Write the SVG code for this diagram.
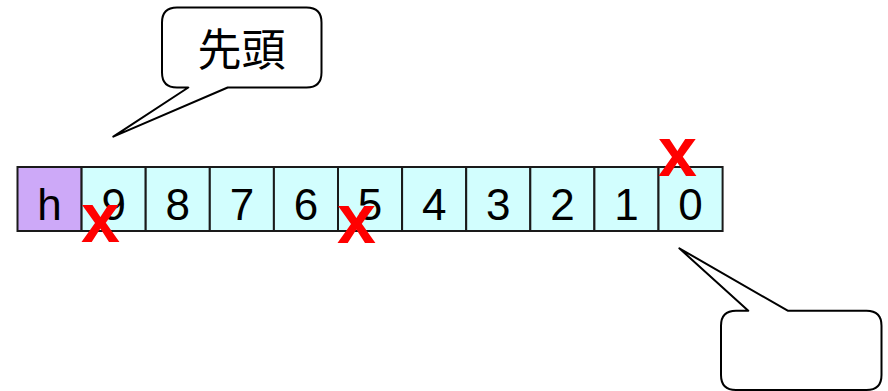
<svg xmlns="http://www.w3.org/2000/svg" width="888" height="391" viewBox="0 0 888 391">
<style>
.cell{stroke:#1a1a1a;stroke-width:2}
.c{fill:#D2FEFE}
.h{fill:#CDA9F8}
.t{font-family:"Liberation Sans",Arial,sans-serif;font-size:44px;fill:#000;text-anchor:middle}
.x{font-family:"Liberation Sans",Arial,sans-serif;font-size:70px;font-weight:bold;fill:#FF0000;text-anchor:middle}
.call{fill:#fff;stroke:#000;stroke-width:2;stroke-linejoin:round}
.cj{font-family:"Noto Sans CJK JP","Noto Sans CJK SC",sans-serif;font-size:44px;fill:#000;text-anchor:middle}
</style>
<g id="cell-h"><rect class="cell h" x="17.5" y="167" width="64.1" height="64"/><text class="t" x="49.5" y="220">h</text></g>
<g id="cell-9"><rect class="cell c" x="81.6" y="167" width="64.1" height="64"/><text class="t" x="113.7" y="220">9</text></g>
<g id="cell-8"><rect class="cell c" x="145.7" y="167" width="64.1" height="64"/><text class="t" x="177.8" y="220">8</text></g>
<g id="cell-7"><rect class="cell c" x="209.8" y="167" width="64.1" height="64"/><text class="t" x="241.9" y="220">7</text></g>
<g id="cell-6"><rect class="cell c" x="273.9" y="167" width="64.1" height="64"/><text class="t" x="306" y="220">6</text></g>
<g id="cell-5"><rect class="cell c" x="338" y="167" width="64.1" height="64"/><text class="t" x="370.1" y="220">5</text></g>
<g id="cell-4"><rect class="cell c" x="402.1" y="167" width="64.1" height="64"/><text class="t" x="434.2" y="220">4</text></g>
<g id="cell-3"><rect class="cell c" x="466.2" y="167" width="64.1" height="64"/><text class="t" x="498.3" y="220">3</text></g>
<g id="cell-2"><rect class="cell c" x="530.3" y="167" width="64.1" height="64"/><text class="t" x="562.4" y="220">2</text></g>
<g id="cell-1"><rect class="cell c" x="594.4" y="167" width="64.1" height="64"/><text class="t" x="626.5" y="220">1</text></g>
<g id="cell-0"><rect class="cell c" x="658.5" y="167" width="64.1" height="64"/><text class="t" x="690.6" y="220">0</text></g>
<g id="marks">
<text class="x" x="100.5" y="242">x</text>
<text class="x" x="356.5" y="243">x</text>
<text class="x" x="677.5" y="176">x</text>
</g>
<g id="callout-head">
<path class="call" d="M177,7.5 H306.5 Q321.5,7.5 321.5,22.5 V72.5 Q321.5,87.5 306.5,87.5 H227.7 L113.3,136.7 L188.3,87.5 H177 Q162,87.5 162,72.5 V22.5 Q162,7.5 177,7.5 Z"/>
<text class="cj" x="241.5" y="66">先頭</text>
</g>
<g id="callout-tail">
<path class="call" d="M736,310.7 H748.3 L679.3,248.3 L787.7,310.7 H866.5 Q881.5,310.7 881.5,325.7 V375 Q881.5,390 866.5,390 H736 Q721,390 721,375 V325.7 Q721,310.7 736,310.7 Z"/>
</g>
</svg>
